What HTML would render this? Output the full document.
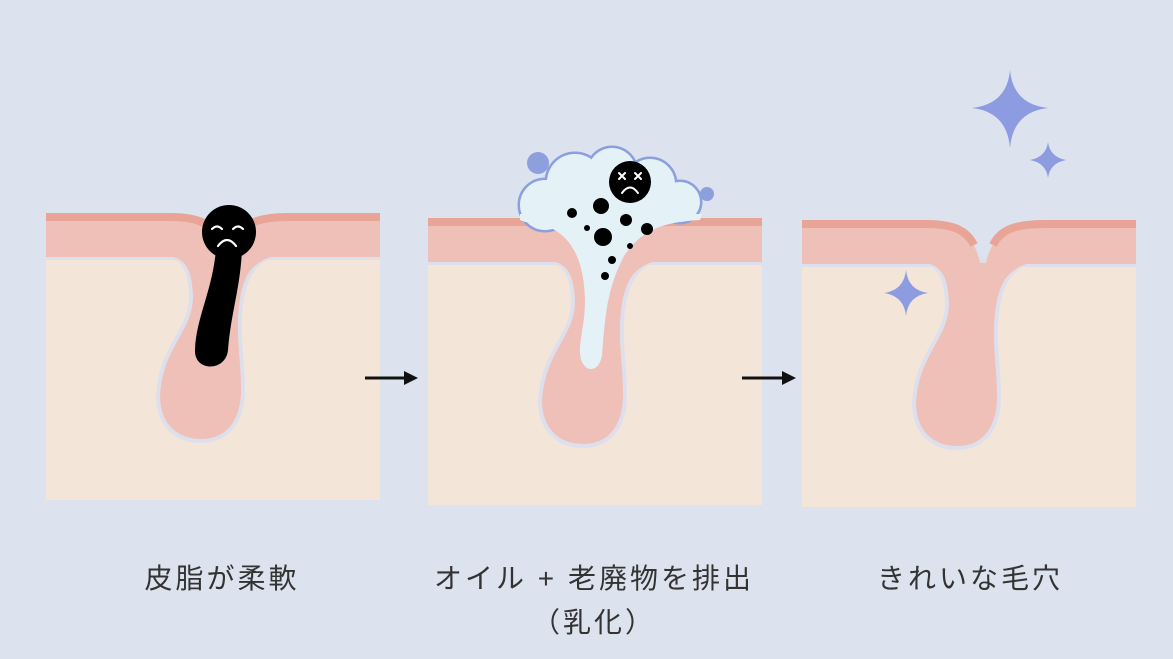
<!DOCTYPE html>
<html><head><meta charset="utf-8"><style>
html,body{margin:0;padding:0;background:#dde3ee;}
svg{display:block}
text{font-family:"Liberation Sans","Noto Sans CJK JP",sans-serif;fill:#333;font-size:28px;letter-spacing:3px}
</style></head><body>
<svg width="1173" height="659" viewBox="0 0 1173 659">
<defs>
<g id="skin">
  <rect x="46" y="250" width="334" height="250" fill="#f3e6d8"/>
  <rect x="46" y="250" width="334" height="10" fill="#dde0ec"/>
  <path d="M160,254 C183,254 190,270 191,295 C192,330 161,345 158,395 C158,427 178,441 201,441 C227,441 243,422 243,390 C243,360 239,345 240,320 C241,290 248,260 278,254 Z" fill="#efc0b7" stroke="#dde0ec" stroke-width="4"/>
  <path d="M46,213 L170,213 C205,213 222,230 227,272 C232,230 250,213 290,213 L380,213 L380,257 L46,257 Z" fill="#efc0b7"/>
  <path d="M165,256 C185,256 192,270 193,295 C194,330 165,345 162,395 C162,425 180,438 201,438 C225,438 240,420 240,390 C240,360 236,345 237,320 C238,290 245,262 275,256 Z" fill="#efc0b7"/>
  <path d="M46,217 L170,217 C195,217 210,222 218,238 M237,238 C245,222 260,217 290,217 L380,217" fill="none" stroke="#e8a597" stroke-width="8"/>
</g>
</defs>

<!-- panel 1 -->
<use href="#skin"/>
<path d="M216,250 L242,250 C240,290 231,312 228,350 C226,372 194,372 195,350 C196,318 212,292 216,250 Z" fill="#000"/>
<circle cx="229" cy="232" r="27" fill="#000"/>
<path d="M212,229 q5,-5 10,0 M233,229 q5,-5 10,0 M218,246 q9,-12 18,0" fill="none" stroke="#fff" stroke-width="2.2" stroke-linecap="round"/>

<!-- panel 2 -->
<g transform="translate(382,5)"><use href="#skin"/></g>
<g stroke="#8d9fdd" stroke-width="5" fill="#e4f2f7">
<circle cx="545" cy="205" r="25"/><circle cx="575" cy="182" r="28"/><circle cx="612" cy="172" r="24"/><circle cx="650" cy="184" r="25"/><circle cx="680" cy="202" r="20"/>
</g>
<g fill="#e4f2f7">
<circle cx="545" cy="205" r="25"/><circle cx="575" cy="182" r="28"/><circle cx="612" cy="172" r="24"/><circle cx="650" cy="184" r="25"/><circle cx="680" cy="202" r="20"/>
<rect x="540" y="190" width="150" height="30"/>
</g>
<path d="M520,220 L525,222 C568,224 584,255 585,300 C585,330 576,348 582,362 C588,374 600,370 602,355 C605,320 606,290 624,256 C640,232 660,222 700,220 L702,214 L520,214 Z" fill="#e4f2f7"/>
<circle cx="538" cy="163" r="11" fill="#8d9fdd"/>
<circle cx="707" cy="194" r="7" fill="#8d9fdd"/>
<g fill="#000">
<circle cx="572" cy="213" r="5"/><circle cx="601" cy="206" r="8"/><circle cx="587" cy="228" r="3"/><circle cx="626" cy="220" r="6"/><circle cx="647" cy="229" r="6"/><circle cx="603" cy="237" r="9"/><circle cx="630" cy="246" r="3"/><circle cx="612" cy="260" r="4"/><circle cx="605" cy="276" r="4"/>
<circle cx="630" cy="182" r="21"/>
</g>
<path d="M619,173 l6,6 M625,173 l-6,6 M635,173 l6,6 M641,173 l-6,6 M622,193 q8,-11 16,0" fill="none" stroke="#fff" stroke-width="2" stroke-linecap="round"/>

<!-- panel 3 -->
<g transform="translate(756,7)"><use href="#skin"/></g>
<g fill="#8d9be0">
<path d="M1010,70 Q1013,104 1048,108 Q1013,112 1010,148 Q1007,112 972,108 Q1007,104 1010,70 Z"/>
<path d="M1048,142 Q1050,157 1066,160 Q1050,163 1048,178 Q1046,163 1030,160 Q1046,157 1048,142 Z"/>
<path d="M906,270 Q908,290 928,293 Q908,296 906,316 Q904,296 884,293 Q904,290 906,270 Z"/>
</g>

<!-- arrows -->
<path d="M365,378 L406,378" stroke="#111" stroke-width="3"/>
<path d="M418,378 L404,371 L404,385 Z" fill="#111"/>
<path d="M742,378 L784,378" stroke="#111" stroke-width="3"/>
<path d="M796,378 L782,371 L782,385 Z" fill="#111"/>

<text x="222" y="588" text-anchor="middle">皮脂が柔軟</text>
<text x="594" y="588" text-anchor="middle">オイル + 老廃物を排出</text>
<text x="594" y="632" text-anchor="middle">（乳化）</text>
<text x="970" y="588" text-anchor="middle">きれいな毛穴</text>
</svg>
</body></html>
